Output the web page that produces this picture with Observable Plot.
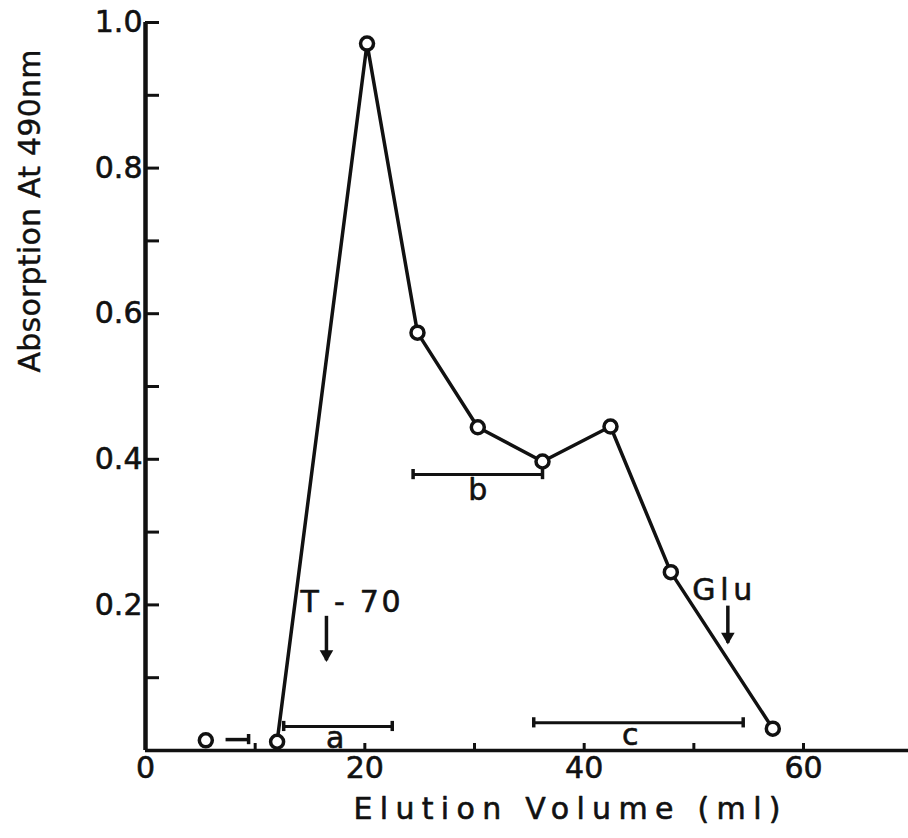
<!DOCTYPE html>
<html><head><meta charset="utf-8">
<script src="https://cdn.jsdelivr.net/npm/d3@7"></script>
<script src="https://cdn.jsdelivr.net/npm/@observablehq/plot@0.6"></script>
<style>html,body{margin:0;padding:0;background:#fff}</style>
</head><body><div id="chart"></div>
<script>
// Measured points (elution volume in ml, absorption at 490 nm)
const elutionVolume = [5.5, 12.0, 20.2, 24.8, 30.3, 36.2, 42.4, 47.9, 57.2];
const absorption    = [0.014, 0.012, 0.971, 0.574, 0.444, 0.397, 0.445, 0.245, 0.03];
// Fraction ranges
const fractionNames  = ["a", "b", "c"];
const fractionStart  = [12.6, 24.4, 35.4];
const fractionEnd    = [22.5, 36.2, 54.5];
const fractionLevel  = [0.033, 0.379, 0.038];
const fractionLabelX = [17.3, 30.3, 44.2];
const fractionLabelY = [0.016, 0.357, 0.021];
// Small dash between first two points
const dashStart = [7.3];
const dashEnd   = [9.4];
const dashLevel = [0.015];
// Marker annotations
const markerNames  = ["T - 70", "Glu"];
const markerX      = [16.5, 53.1];
const markerTop    = [0.185, 0.199];
const markerBottom = [0.124, 0.148];
const markerLabelX = [18.7, 52.6];
const markerLabelY = [0.203, 0.22];
// Axes
const xTickLabels = [0, 20, 40, 60];
const xTicks = [10, 20, 30, 40, 50, 60];
const yTickLabels = [0.2, 0.4, 0.6, 0.8, 1.0];
const yTicks = [0.1, 0.2, 0.3, 0.4, 0.5, 0.6, 0.7, 0.8, 0.9, 1.0];
const xLabel = "Elution Volume (ml)";
const yLabel = "Absorption At 490nm";

const points = elutionVolume.map((x, i) => ({x, y: absorption[i]}));
const linePts = points.slice(1);
const fractions = fractionNames.map((n, i) => ({n, x1: fractionStart[i], x2: fractionEnd[i], y: fractionLevel[i], lx: fractionLabelX[i], ly: fractionLabelY[i]}));
const dashes = dashStart.map((x1, i) => ({x1, x2: dashEnd[i], y: dashLevel[i]}));
const markers = markerNames.map((n, i) => ({n, x: markerX[i], y1: markerTop[i], y2: markerBottom[i], lx: markerLabelX[i], ly: markerLabelY[i]}));
const caps = fractions.flatMap(f => [{x: f.x1, y: f.y}, {x: f.x2, y: f.y}]).concat(dashes.map(d => ({x: d.x2, y: d.y})));

const W = 908, H = 838, mL = 145, mR = 0, mT = 22, mB = 88;
const fw = W - mL - mR, fh = H - mT - mB;
const font = "DejaVu Sans, sans-serif";
const ink = "#111";

const chart = Plot.plot({
  width: W, height: H,
  marginLeft: mL, marginRight: mR, marginTop: mT, marginBottom: mB,
  style: {background: "#fff", fontFamily: font},
  x: {domain: [0, fw / 10.967], axis: null},
  y: {domain: [0, 1], axis: null},
  marks: [
    // axis lines
    Plot.ruleX([0], {y1: 0, y2: 1.0, stroke: ink, strokeWidth: 4.5}),
    Plot.ruleY([0], {stroke: ink, strokeWidth: 3.5}),
    // y ticks (inward)
    Plot.tickY(yTicks, {y: d => d, insetRight: fw - 14, stroke: ink, strokeWidth: 3}),
    // x ticks (inward)
    Plot.tickX(xTicks, {x: d => d, insetTop: fh - 7, stroke: ink, strokeWidth: 3}),
    // tick labels
    Plot.text(yTickLabels, {y: d => d, frameAnchor: "left", textAnchor: "end", dx: -3, text: d => d3.format(".1f")(d), fontSize: 30, fill: ink, stroke: ink, strokeWidth: 0.6}),
    Plot.text(xTickLabels, {x: d => d, frameAnchor: "bottom", dy: 27, text: d => String(d), fontSize: 30, fill: ink, stroke: ink, strokeWidth: 0.6}),
    // axis titles
    Plot.text([xLabel], {frameAnchor: "bottom", dx: 40, dy: 68, text: d => d, fontSize: 30, fill: ink, stroke: ink, strokeWidth: 0.6}),
    Plot.text([yLabel], {frameAnchor: "left", dx: -115, dy: -14, rotate: -90, text: d => d, fontSize: 30, fill: ink, stroke: ink, strokeWidth: 0.4}),
    // fraction bars
    Plot.link(fractions, {x1: "x1", x2: "x2", y1: "y", y2: "y", stroke: ink, strokeWidth: 3}),
    Plot.link(dashes, {x1: "x1", x2: "x2", y1: "y", y2: "y", stroke: ink, strokeWidth: 3.5}),
    Plot.ruleX(caps, {x: "x", y1: d => d.y - 0.007, y2: d => d.y + 0.007, stroke: ink, strokeWidth: 3.5}),
    Plot.text(fractions, {x: "lx", y: "ly", text: "n", fontSize: 30, fill: ink, stroke: ink, strokeWidth: 0.6}),
    // marker arrows
    Plot.link(markers, {x1: "x", x2: "x", y1: "y1", y2: "y2", stroke: ink, strokeWidth: 3.5}),
    Plot.dot(markers, {x: "x", y: "y2", symbol: "triangle2", rotate: 180, r: 6.5, dy: -6, fill: ink}),
    Plot.text(markers, {x: "lx", y: "ly", text: "n", fontSize: 30, fill: ink, stroke: ink, strokeWidth: 0.6}),
    // data
    Plot.line(linePts, {x: "x", y: "y", stroke: ink, strokeWidth: 3.5}),
    Plot.dot(points, {x: "x", y: "y", r: 6.5, fill: "#fff", stroke: ink, strokeWidth: 3.5})
  ]
});

const svg = d3.select(chart);
const lengths = {"Elution Volume (ml)": 427, "Absorption At 490nm": 323, "T - 70": 100, "Glu": 60};
svg.selectAll("text").each(function() {
  const t = this.textContent;
  if (lengths[t]) {
    this.setAttribute("textLength", lengths[t]);
    this.setAttribute("lengthAdjust", "spacing");
  }
});
document.getElementById("chart").appendChild(chart);
</script>
</body></html>
